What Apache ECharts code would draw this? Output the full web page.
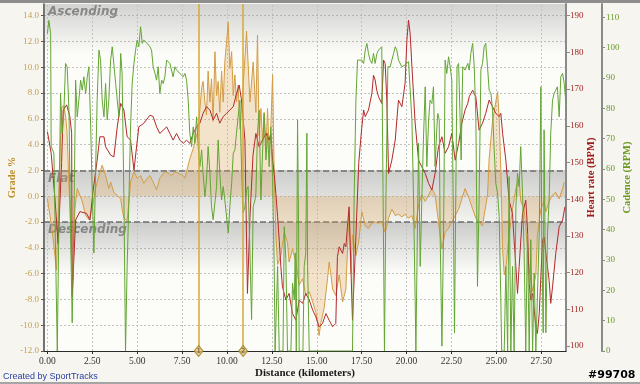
<!DOCTYPE html>
<html><head><meta charset="utf-8">
<script src="https://cdn.jsdelivr.net/npm/echarts@6/dist/echarts.min.js"></script>
<style>html,body{margin:0;padding:0;background:#f6f5f0;}#c{width:640px;height:384px;}</style>
</head><body><div id="c"></div>
<script>
// ---- axis ticks ----
const xTicks = [0, 2.5, 5, 7.5, 10, 12.5, 15, 17.5, 20, 22.5, 25, 27.5];
const gradeTicks = [-12, -10, -8, -6, -4, -2, 0, 2, 4, 6, 8, 10, 12, 14];
const hrTicks = [100, 110, 120, 130, 140, 150, 160, 170, 180, 190];
const cadTicks = [0, 10, 20, 30, 40, 50, 60, 70, 80, 90, 100, 110];

// ---- grade bands ----
const bandNames = ['Ascending', 'Flat', 'Descending'];
const bandTop = [14.9, 2, -2];
const bandBottom = [2, -2, -12];

// ---- laps ----
const lapKm = [8.42, 10.90];
const lapLabels = ['1', '2'];

// ---- Grade % ----
const gradeKm = [
0.00,0.25,0.51,0.61,0.79,0.92,1.03,1.09,1.20,1.31,
1.42,1.53,1.66,1.94,2.13,2.31,2.49,2.68,2.87,3.05,
3.24,3.42,3.52,3.70,4.08,4.16,4.26,4.44,4.54,4.63,
4.82,5.00,5.19,5.37,5.56,5.71,5.89,6.08,6.26,6.54,
6.73,6.92,7.10,7.28,7.56,7.66,7.75,7.93,8.12,8.40,
8.59,8.67,8.77,8.86,8.95,9.05,9.14,9.23,9.33,9.42,
9.51,9.60,9.70,9.79,9.88,9.98,10.07,10.16,10.26,10.35,
10.44,10.53,10.62,10.72,10.83,11.00,11.09,11.28,11.46,11.61,
11.70,11.79,11.89,11.98,12.07,12.17,12.26,12.35,12.44,12.54,
12.63,12.72,12.82,13.00,13.19,13.37,13.46,13.65,13.84,14.02,
14.21,14.39,14.58,14.77,14.95,15.04,15.13,15.23,15.41,15.60,
15.69,15.79,15.88,16.06,16.25,16.44,16.62,16.70,16.80,16.90,
16.99,17.18,17.34,17.51,17.70,17.88,18.07,18.25,18.44,18.62,
18.81,19.00,19.18,19.37,19.55,19.74,19.92,20.11,20.30,20.48,
20.67,20.85,21.04,21.23,21.41,21.59,21.78,21.97,22.15,22.34,
22.52,22.71,22.90,23.08,23.26,23.41,23.49,23.68,23.86,24.04,
24.23,24.32,24.51,24.60,24.79,24.97,25.07,25.16,25.25,25.35,
25.44,25.53,25.71,25.90,26.09,26.27,26.36,26.55,26.64,26.83,
27.02,27.20,27.29,27.48,27.66,27.76,27.94,28.13,28.31,28.50,
28.69,28.78];
const gradeVal = [
-0.2,-2.5,-5.7,-1.0,6.9,7.0,6.0,5.0,1.0,-3.0,
-6.5,-1.0,0.6,-0.4,-1.5,-1.8,-1.0,0.6,1.6,2.4,
1.6,0.6,1.1,0.3,-0.2,-1.0,-1.7,-1.9,-0.4,1.1,
1.9,1.4,1.6,1.0,1.4,1.6,1.1,0.5,1.4,1.9,
1.8,1.6,1.9,1.8,1.6,1.4,1.9,2.9,3.7,5.2,
8.4,8.9,7.3,6.3,9.7,7.3,9.1,5.8,11.2,7.8,
8.9,6.5,9.7,7.3,10.4,12.0,13.5,9.9,11.2,7.8,
9.4,7.3,8.6,5.2,7.0,10.7,12.8,7.3,10.4,6.5,
12.5,4.7,6.8,4.2,6.5,3.7,6.8,3.4,5.2,9.4,
1.6,-3.0,-5.3,-4.6,-2.8,-3.6,-5.1,-4.1,-5.1,-6.9,
-6.4,-7.7,-7.4,-8.2,-9.0,-9.8,-10.8,-9.8,-8.7,-6.4,
-5.1,-6.1,-7.2,-7.7,-6.1,-8.2,-7.2,-4.5,-1.2,-6.0,
-3.0,-4.6,-3.5,-1.2,-2.3,-2.5,-2.1,-2.0,-2.1,-2.0,
-2.8,-1.7,-1.0,-1.5,-1.4,-1.6,-1.4,-1.7,-1.5,-2.5,
-0.7,0.1,-0.4,0.1,0.6,0.1,-2.0,-4.1,-2.8,-2.5,
-2.0,-1.5,-1.0,-0.2,0.6,0.1,-0.2,-1.0,-1.7,-2.0,
-2.3,-1.5,0.1,2.9,5.8,7.3,8.1,6.0,2.0,-4.1,
-6.1,-5.6,-3.0,-1.0,0.6,1.4,-0.4,-1.0,-2.5,-5.6,
-7.4,-6.1,-3.0,-1.0,-0.4,-1.2,-0.4,0.1,0.3,-0.2,
0.6,1.1];

// ---- Heart rate (BPM) ----
const hrKm = [
0.00,0.21,0.42,0.60,0.79,0.88,1.07,1.25,1.35,1.38,
1.57,1.81,2.18,2.37,2.55,2.77,2.92,3.15,3.24,3.52,
3.70,3.89,4.08,4.26,4.44,4.63,4.82,5.09,5.37,5.71,
5.89,6.08,6.26,6.45,6.64,6.82,7.00,7.19,7.38,7.56,
7.75,7.93,8.12,8.31,8.49,8.67,8.86,9.05,9.23,9.42,
9.60,9.79,9.98,10.16,10.35,10.53,10.68,10.81,11.00,11.14,
11.28,11.45,11.61,11.79,11.98,12.17,12.35,12.44,12.54,12.63,
12.72,12.82,12.91,13.00,13.09,13.28,13.46,13.65,13.84,14.02,
14.21,14.39,14.58,14.77,14.95,15.13,15.32,15.51,15.69,15.88,
16.06,16.15,16.25,16.44,16.53,16.62,16.71,16.80,16.99,17.18,
17.34,17.51,17.61,17.70,17.88,18.07,18.16,18.25,18.34,18.44,
18.62,18.72,18.81,18.90,19.00,19.18,19.37,19.55,19.74,19.92,
20.02,20.11,20.20,20.30,20.48,20.67,20.85,21.04,21.23,21.41,
21.59,21.78,21.97,22.15,22.34,22.52,22.71,22.90,23.08,23.26,
23.41,23.49,23.68,23.77,23.86,24.04,24.23,24.41,24.60,24.79,
24.97,25.16,25.25,25.35,25.53,25.71,25.90,25.99,26.09,26.18,
26.27,26.46,26.64,26.73,26.83,26.92,27.02,27.20,27.29,27.39,
27.57,27.66,27.76,27.94,28.03,28.13,28.31,28.50,28.69,28.82];
const hrVal = [
158.4,152.5,140.0,127.9,150.0,164.3,165.7,162.5,158.0,113.4,
134.3,136.6,136.1,134.3,142.5,150.6,157.0,157.0,154.3,152.0,
151.5,159.7,166.1,164.3,157.0,156.1,147.9,159.7,160.7,162.9,
162.5,159.7,157.9,158.8,159.7,157.9,156.1,157.9,156.1,155.2,
156.1,155.2,157.9,159.7,160.7,163.4,165.2,164.3,161.6,163.4,
160.7,162.5,163.4,164.3,165.2,168.8,171.1,167.0,156.1,114.3,
135.0,152.0,157.9,154.3,156.1,157.9,156.1,157.9,150.6,147.0,
141.6,135.2,128.8,121.6,116.1,112.5,114.3,108.8,107.0,112.5,
111.6,114.3,112.5,109.8,107.9,105.2,106.1,108.8,107.0,105.2,
106.1,124.3,127.0,125.2,127.9,127.0,132.5,137.9,107.0,130.0,
150.0,159.7,164.3,162.5,164.3,168.8,173.8,172.5,169.7,167.9,
166.1,177.9,177.0,167.0,147.0,150.6,156.1,167.0,165.2,171.6,
183.4,188.8,185.2,176.1,160.7,150.6,148.8,147.0,144.3,142.5,
147.0,154.3,157.0,152.5,154.3,157.9,150.6,155.2,160.7,164.3,
166.1,167.9,169.7,170.2,167.9,158.8,160.7,163.4,167.0,165.2,
163.4,162.5,163.4,157.9,150.6,139.7,136.1,128.8,121.6,114.3,
121.6,136.1,139.7,132.5,117.0,112.5,114.3,105.2,103.4,108.8,
128.8,129.7,125.2,117.9,111.6,116.1,125.2,132.5,134.3,137.9];

// ---- Cadence (RPM) ----
const cadKm = [
0.00,0.08,0.18,0.21,0.36,0.55,0.64,0.73,0.82,0.92,
1.01,1.10,1.20,1.29,1.38,1.48,1.57,1.66,1.75,1.85,
1.94,2.03,2.13,2.22,2.31,2.41,2.49,2.59,2.68,2.77,
2.87,2.96,3.05,3.15,3.24,3.33,3.42,3.52,3.61,3.70,
3.80,3.98,4.08,4.16,4.26,4.32,4.35,4.44,4.54,4.63,
4.72,4.82,4.91,5.00,5.09,5.19,5.28,5.37,5.56,5.71,
5.80,5.89,5.99,6.08,6.17,6.26,6.36,6.45,6.54,6.64,
6.73,6.82,7.00,7.10,7.19,7.38,7.56,7.66,7.75,7.84,
7.93,8.03,8.12,8.21,8.31,8.40,8.49,8.59,8.67,8.77,
8.86,8.95,9.05,9.14,9.23,9.33,9.42,9.51,9.60,9.70,
9.79,9.88,10.07,10.16,10.26,10.35,10.44,10.53,10.62,10.72,
10.81,10.90,11.00,11.09,11.18,11.28,11.37,11.46,11.56,11.61,
11.70,11.79,11.89,11.98,12.07,12.17,12.26,12.35,12.44,12.54,
12.63,12.68,12.75,12.82,12.91,13.12,13.19,13.28,13.37,13.56,
13.65,13.75,13.80,13.86,13.93,13.99,14.02,14.23,14.30,14.39,
14.45,14.49,14.58,16.99,17.08,17.18,17.27,17.36,17.51,17.61,
17.70,17.79,17.88,17.97,18.07,18.16,18.25,18.35,18.44,18.53,
18.62,18.68,18.77,18.85,18.96,19.09,19.18,19.28,19.37,19.46,
19.55,19.74,19.92,20.11,20.20,20.30,20.39,20.48,20.52,20.58,
20.67,20.76,20.85,20.94,21.04,21.13,21.23,21.31,21.41,21.50,
21.59,21.69,21.74,21.82,21.87,21.97,22.06,22.15,22.24,22.34,
22.43,22.52,22.62,22.67,22.74,22.81,22.90,22.98,23.04,23.13,
23.26,23.41,23.49,23.58,23.68,23.77,23.86,23.95,24.04,24.14,
24.23,24.32,24.41,24.51,24.60,24.70,24.79,24.88,24.97,25.07,
25.16,25.25,25.30,25.44,25.53,25.63,25.71,25.81,25.90,25.99,
26.09,26.18,26.27,26.36,26.46,26.55,26.64,26.73,26.83,26.92,
27.02,27.11,27.20,27.29,27.39,27.48,27.53,27.61,27.66,27.76,
27.85,27.94,28.03,28.13,28.22,28.31,28.40,28.50,28.59,28.69,
28.78,28.88];
const cadVal = [
104.7,109.0,104.7,67.4,65.2,0,0,84.9,71.8,79.4,
94.8,93.7,79.4,38.9,9.3,44.3,89.3,77.2,82.7,89.3,
86.0,90.4,84.9,90.4,93.7,73.9,54.2,32.3,58.6,82.7,
99.2,95.9,82.7,77.2,88.2,76.2,82.7,95.9,100.3,100.3,
88.2,77.2,98.1,91.5,49.8,16.9,0,27.9,49.8,73.9,
88.2,94.8,99.2,102.5,100.3,106.9,101.4,102.5,101.4,100.3,
99.2,93.7,91.5,89.3,93.7,84.9,89.3,88.2,90.4,95.9,
95.9,94.8,90.4,93.7,92.6,91.5,90.4,91.5,89.3,82.7,
71.8,67.4,73.9,68.5,77.2,67.4,60.8,66.3,58.6,50.9,
56.4,67.4,58.6,47.6,43.3,43.3,54.2,69.6,58.6,49.8,
54.2,49.8,38.9,47.6,55.3,65.2,66.3,71.8,77.2,82.7,
60.8,45.5,47.6,53.1,54.2,32.3,10.4,47.6,49.8,52.0,
71.8,79.4,49.8,65.2,78.3,63.0,71.8,60.8,73.9,57.5,
27.9,0,0,27.9,0,0,41.0,30.1,0,0,
22.4,16.9,32.3,0,76.2,38.9,0,0,27.9,32.3,
71.8,27.9,0,0,49.8,82.7,95.9,96.4,95.9,94.8,
99.2,101.4,98.1,95.9,94.8,98.1,94.8,98.1,99.2,99.7,
100.3,60.8,0,49.8,93.7,93.7,95.9,98.1,100.3,99.2,
95.9,93.7,94.3,95.4,95.9,76.2,49.8,16.9,0,27.9,
68.5,27.9,49.8,69.6,87.1,60.8,76.2,82.7,81.6,87.1,
60.8,73.9,78.3,76.2,38.9,1.6,38.9,95.9,91.5,97.0,
93.7,89.3,38.9,6.0,49.8,93.7,94.8,77.2,63.0,93.7,
92.6,94.8,92.6,98.1,101.4,93.7,77.2,21.3,49.8,92.6,
94.8,100.3,101.4,93.7,86.0,84.9,79.4,66.3,55.3,52.0,
44.3,16.9,0,0,27.9,0,57.5,0,27.9,0,
47.6,58.6,54.2,67.4,52.0,32.3,0,38.9,0,36.7,
0,25.7,0,0,38.9,87.1,38.9,6.0,72.9,6.0,
38.9,49.8,71.8,82.7,84.9,86.0,87.1,77.2,90.4,91.5,
88.2,81.6];

const zip = (a, b) => a.map((v, i) => [v, b[i]]);
const serif = 'Liberation Serif';
const grad = (stops) => ({type: 'linear', x: 0, y: 0, x2: 0, y2: 1,
  colorStops: stops.map(s => ({offset: s[0], color: 'rgba(135,135,135,' + s[1] + ')'}))});
const bandFills = [
  grad([[0, 0.36], [0.3, 0], [1, 0]]),
  grad([[0, 0.4], [1, 0.08]]),
  grad([[0, 0.42], [0.4, 0], [1, 0]])
];

const chart = echarts.init(document.getElementById('c'), null, {renderer: 'canvas'});
const option = {
  animation: false,
  backgroundColor: '#f6f5f0',
  grid: {left: 44, right: 74, top: 4, bottom: 33, show: true, backgroundColor: '#fcfcf9', borderWidth: 0,
    containLabel: false, outerBoundsMode: 'none'},
  xAxis: {
    type: 'value', min: -0.19, max: 28.88,
    axisLine: {onZero: false, lineStyle: {color: '#2a2a2a', width: 1}},
    axisTick: {show: true, customValues: xTicks, length: 3, lineStyle: {color: '#2a2a2a'}},
    axisLabel: {customValues: xTicks, formatter: v => v.toFixed(2), fontFamily: serif, fontSize: 9.5, color: '#333', margin: 5},
    splitLine: {show: false},
    name: 'Distance (kilometers)', nameLocation: 'middle', nameGap: 17, nameMoveOverlap: false,
    nameTextStyle: {fontFamily: serif, fontWeight: 'bold', fontSize: 11, color: '#1a1a1a'}
  },
  yAxis: [
    {
      type: 'value', min: -12, max: 14.9, interval: 2, position: 'left',
      axisLine: {show: true, onZero: false, lineStyle: {color: '#444', width: 1.5}},
      axisTick: {show: true, customValues: gradeTicks, length: 3, lineStyle: {color: '#555'}},
      axisLabel: {customValues: gradeTicks, formatter: v => v.toFixed(1), fontFamily: serif, fontSize: 9, color: '#c4a050', margin: 5},
      splitLine: {show: true, lineStyle: {type: [2, 2], color: '#c2c2c2', width: 1}},
      name: 'Grade %', nameLocation: 'middle', nameGap: 26, nameMoveOverlap: false,
      nameTextStyle: {fontFamily: serif, fontWeight: 'bold', fontSize: 10.5, color: '#bd8f2c'}
    },
    {
      type: 'value', min: 98.6, max: 193.2, position: 'right',
      axisLine: {show: true, onZero: false, lineStyle: {color: '#8a8a8a', width: 2}},
      axisTick: {show: true, customValues: hrTicks, length: 4, lineStyle: {color: '#8a8a8a'}},
      axisLabel: {customValues: hrTicks, fontFamily: serif, fontSize: 9, color: '#9c1c1c', margin: 4},
      splitLine: {show: false},
      name: 'Heart rate (BPM)', nameLocation: 'middle', nameGap: 20, nameMoveOverlap: false,
      nameTextStyle: {fontFamily: serif, fontWeight: 'bold', fontSize: 10.5, color: '#a01818'}
    },
    {
      type: 'value', min: 0, max: 114.4, position: 'right', offset: 36,
      axisLine: {show: true, onZero: false, lineStyle: {color: '#8a8a8a', width: 2}},
      axisTick: {show: true, customValues: cadTicks, length: 3, lineStyle: {color: '#8a8a8a'}},
      axisLabel: {customValues: cadTicks, fontFamily: serif, fontSize: 9, color: '#6a9a2a', margin: 4},
      splitLine: {show: false},
      name: 'Cadence (RPM)', nameLocation: 'middle', nameGap: 20, nameMoveOverlap: false,
      nameTextStyle: {fontFamily: serif, fontWeight: 'bold', fontSize: 10.5, color: '#6a9a20'}
    }
  ],
  series: [
    {
      name: 'Grade', type: 'line', yAxisIndex: 0, data: zip(gradeKm, gradeVal),
      symbol: 'none', z: 2,
      lineStyle: {color: '#d49c44', width: 1},
      areaStyle: {color: 'rgba(222,168,92,0.42)'},
      markArea: {
        silent: true,
        label: {show: true, position: 'insideTopLeft', distance: 2, offset: [2, 0],
          fontFamily: 'DejaVu Sans', fontStyle: 'italic', fontWeight: 'bold', fontSize: 12,
          color: 'rgba(115,115,115,0.8)'},
        data: bandNames.map((n, i) => [
          {name: n, yAxis: bandTop[i], itemStyle: {color: bandFills[i]}},
          {yAxis: bandBottom[i]}
        ])
      },
      markLine: {
        silent: true, z: 1, symbol: ['none', 'none'], label: {show: false},
        data: xTicks.map(v => ({xAxis: v, lineStyle: {type: [2, 2], color: '#c2c2c2', width: 1}}))
          .concat([bandTop[1], bandBottom[1]].map(v => ({yAxis: v, lineStyle: {type: [6, 3], color: '#6f6f6f', width: 1.5}})))
      }
    },
    {
      name: 'Heart rate', type: 'line', yAxisIndex: 1, data: zip(hrKm, hrVal),
      symbol: 'none', z: 3, lineStyle: {color: '#b3292b', width: 1}
    },
    {
      name: 'Cadence', type: 'line', yAxisIndex: 2, data: zip(cadKm, cadVal),
      symbol: 'none', z: 4, lineStyle: {color: '#63a533', width: 1}
    },
    {
      name: 'Laps', type: 'scatter', yAxisIndex: 0, clip: false, silent: true, z: 6,
      data: lapKm.map((v, i) => ({value: [v, -12], label: {formatter: lapLabels[i]}})),
      symbol: 'diamond', symbolSize: [9, 11],
      itemStyle: {color: '#e6c670', borderColor: '#9a7a1e', borderWidth: 1},
      label: {show: true, position: 'inside', fontSize: 7, color: '#333', fontFamily: 'DejaVu Sans'},
      markLine: {
        silent: true, z: 5, symbol: ['none', 'none'], label: {show: false},
        lineStyle: {color: '#d4a838', width: 1.5, type: 'solid'},
        data: lapKm.map(v => ({xAxis: v}))
      }
    }
  ],
  graphic: [
    {type: 'rect', left: 0, top: 0, shape: {width: 640, height: 3}, style: {fill: '#8e8e8e'}, silent: true},
    {type: 'rect', left: 0, top: 382, shape: {width: 640, height: 2}, style: {fill: '#a5a5a5'}, silent: true},
    {type: 'text', left: 3, top: 372, style: {text: 'Created by SportTracks', fill: '#2b3f9e', font: '9px "Liberation Sans"'}},
    {type: 'text', right: 4, top: 369, style: {text: '#99708', fill: '#000', stroke: '#fff', lineWidth: 1, font: 'bold 11px "DejaVu Sans"'}}
  ]
};
chart.setOption(option);
</script>
</body></html>
